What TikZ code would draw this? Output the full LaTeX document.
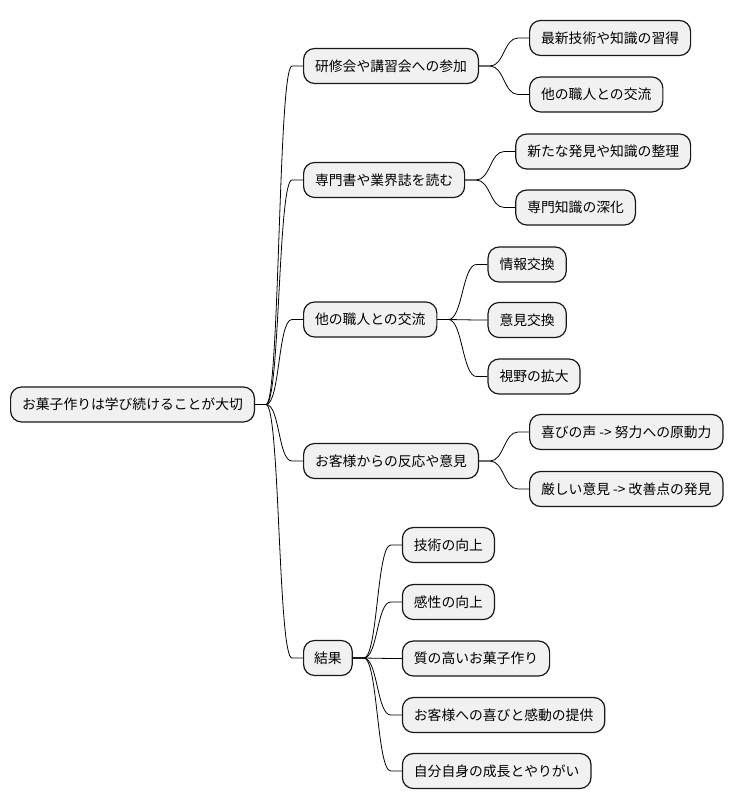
\documentclass[tikz,border=0pt]{standalone}
\usepackage{fontspec}
\setmainfont{Noto Sans CJK JP}
\usetikzlibrary{calc}
\usepackage{xcolor}
\definecolor{topicfill}{RGB}{241,241,241}
\definecolor{topicline}{RGB}{24,24,24}
\tikzset{
  topic/.style={draw=topicline,fill=topicfill,line width=1.2pt,rounded corners=11pt,
                inner xsep=11.5pt,inner ysep=0pt,minimum height=35pt,anchor=west,
                font=\fontsize{13.8}{16}\selectfont},
  branch/.style={draw=black,line width=.8pt,
                 to path={-- ++(11,0) .. controls ($(\tikztostart)+(25,0)$) and
                   ($(\tikztotarget)+(-25,0)$) .. ($(\tikztotarget)+(-11,0)$)
                   -- (\tikztotarget)}},
}
\begin{document}
\begin{tikzpicture}[x=1pt,y=-1pt]
  \useasboundingbox (0,0) rectangle (738,809);
  % root and first level
  \node[topic] (root) at (10,404.5) {お菓子作りは学び続けることが大切};
  \node[topic] (kenshu) at (303,66) {研修会や講習会への参加};
  \node[topic] (senmon) at (303,180) {専門書や業界誌を読む};
  \node[topic] (koryu) at (303,319.5) {他の職人との交流};
  \node[topic] (hanno) at (303,461) {お客様からの反応や意見};
  \node[topic,inner xsep=10.5pt] (kekka) at (303,658) {結果};
  \foreach \p in {kenshu,senmon,koryu,hanno,kekka}{
    \draw[branch] (root.east) to (\p.west);}
  % second level
  \foreach \y/\t [count=\i] in {38/最新技術や知識の習得,94.5/他の職人との交流}{
    \node[topic] (kenshu\i) at ([xshift=50pt]kenshu.east |- 0,\y) {\t};
    \draw[branch] (kenshu.east) to (kenshu\i.west);}
  \foreach \y/\t [count=\i] in {151.5/新たな発見や知識の整理,207.5/専門知識の深化}{
    \node[topic] (senmon\i) at ([xshift=50pt]senmon.east |- 0,\y) {\t};
    \draw[branch] (senmon.east) to (senmon\i.west);}
  \foreach \y/\t [count=\i] in {264.5/情報交換,320/意見交換,376.5/視野の拡大}{
    \node[topic] (koryu\i) at ([xshift=50pt]koryu.east |- 0,\y) {\t};
    \draw[branch] (koryu.east) to (koryu\i.west);}
  \foreach \y/\t [count=\i] in {432/喜びの声\ -> 努力への原動力,489/厳しい意見\ -> 改善点の発見}{
    \node[topic] (hanno\i) at ([xshift=50pt]hanno.east |- 0,\y) {\t};
    \draw[branch] (hanno.east) to (hanno\i.west);}
  \foreach \y/\t [count=\i] in {545/技術の向上,602/感性の向上,658.5/質の高いお菓子作り,
      715/お客様への喜びと感動の提供,771/自分自身の成長とやりがい}{
    \node[topic] (kekka\i) at ([xshift=49pt]kekka.east |- 0,\y) {\t};
    \draw[branch] (kekka.east) to (kekka\i.west);}
\end{tikzpicture}
\end{document}
